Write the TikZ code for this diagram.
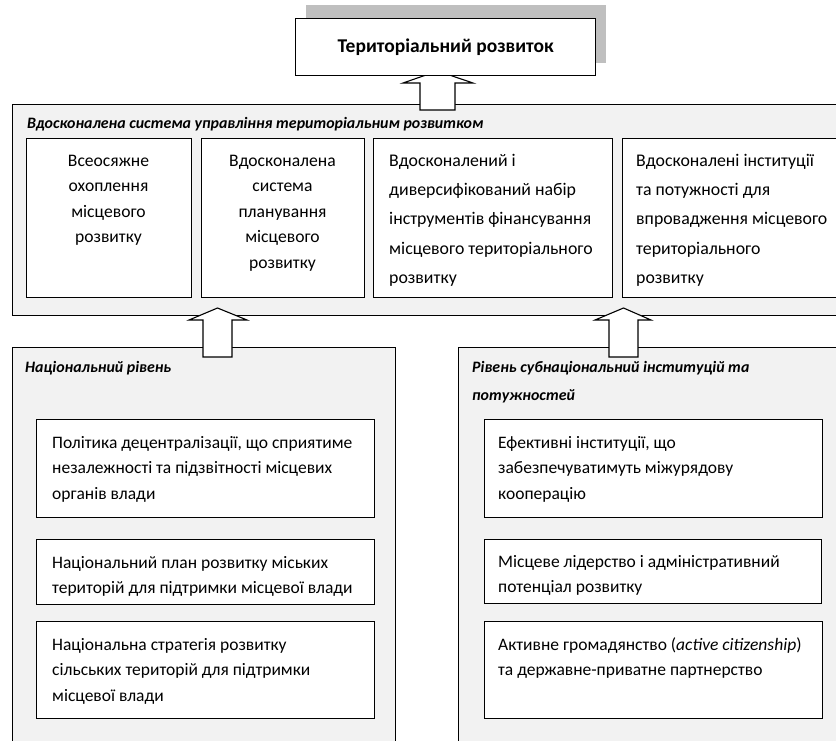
\documentclass[tikz,border=0pt]{standalone}
\usepackage{fontspec}
\setmainfont{Carlito}
\begin{document}
\begin{tikzpicture}[x=1pt,y=-1pt,
  panel/.style={draw=black, line width=1.3pt, fill=black!5, rectangle, inner sep=0pt, anchor=north west},
  box/.style={draw=black, line width=1.3pt, fill=white, rectangle, inner sep=0pt, anchor=north west},
  shadowbox/.style={fill=black!25, draw=none, rectangle, inner sep=0pt, anchor=north west},
  body/.style={inner sep=0pt, anchor=north west, align=left, font=\fontsize{17.5}{25.5}\selectfont},
  bodyc/.style={inner sep=0pt, anchor=north, align=center, font=\fontsize{17.6}{25.5}\selectfont},
  bodywide/.style={inner sep=0pt, anchor=north west, align=left, font=\fontsize{17.8}{29.3}\selectfont},
  ptitle/.style={inner sep=0pt, anchor=north west, align=left, font=\fontsize{15.9}{28}\selectfont\bfseries\itshape},
  barrow/.style={draw=black, line width=1.1pt, fill=white, line join=miter}
]
\useasboundingbox (0,0) rectangle (836,740);
\clip (0,0) rectangle (836,740);

% panels
\node[panel, minimum width=840pt, minimum height=211pt] (upper) at (12,104) {};
\node[panel, minimum width=383pt, minimum height=420pt] (natl) at (12,347) {};
\node[panel, minimum width=400pt, minimum height=420pt] (subn) at (458,347) {};

% panel titles
\node[ptitle] (uppertitle) at (27,128-14) {\rule{0pt}{14pt}Вдосконалена система управління територіальним розвитком};
\node[ptitle] (natltitle) at (25,372-14) {\rule{0pt}{14pt}Національний рівень};
\node[ptitle] (subntitle) at (472,372-14) {\rule{0pt}{14pt}Рівень субнаціональний інституцій та\\потужностей};

% upper boxes
\node[box, minimum width=165pt, minimum height=159pt] (b1) at (26,138) {};
\node[box, minimum width=163pt, minimum height=159pt] (b2) at (201,138) {};
\node[box, minimum width=239pt, minimum height=159pt] (b3) at (373,138) {};
\node[box, minimum width=240pt, minimum height=159pt] (b4) at (622,138) {};

\node[bodyc] (t1) at (108.5,166-14) {\rule{0pt}{14pt}Всеосяжне\\охоплення\\місцевого\\розвитку};
\node[bodyc] (t2) at (282.5,166-14) {\rule{0pt}{14pt}Вдосконалена\\система\\планування\\місцевого\\розвитку};
\node[bodywide] (t3) at (389,166-14) {\rule{0pt}{14pt}Вдосконалений і\\диверсифікований набір\\інструментів фінансування\\місцевого територіального\\розвитку};
\node[bodywide] (t4) at (636,166-14) {\rule{0pt}{14pt}Вдосконалені інституції\\та потужності для\\впровадження місцевого\\територіального\\розвитку};

% lower left boxes
\node[box, minimum width=338pt, minimum height=98pt] (la) at (36,419) {};
\node[box, minimum width=338pt, minimum height=65pt] (lb) at (36,539) {};
\node[box, minimum width=338pt, minimum height=97pt] (lc) at (36,621) {};
\node[body] (tla) at (52,448-14) {\rule{0pt}{14pt}Політика децентралізації, що сприятиме\\незалежності та підзвітності місцевих\\органів влади};
\node[body] (tlb) at (52,568-14) {\rule{0pt}{14pt}Національний план розвитку міських\\територій для підтримки місцевої влади};
\node[body] (tlc) at (52,650-14) {\rule{0pt}{14pt}Національна стратегія розвитку\\сільських територій для підтримки\\місцевої влади};

% lower right boxes
\node[box, minimum width=338pt, minimum height=98pt] (ra) at (484,419) {};
\node[box, minimum width=337pt, minimum height=64pt] (rb) at (484,539) {};
\node[box, minimum width=338pt, minimum height=97pt] (rc) at (484,621) {};
\node[body] (tra) at (498,448-14) {\rule{0pt}{14pt}Ефективні інституції, що\\забезпечуватимуть міжурядову\\кооперацію};
\node[body] (trb) at (498,567-14) {\rule{0pt}{14pt}Місцеве лідерство і адміністративний\\потенціал розвитку};
\node[body] (trc) at (498,650-14) {\rule{0pt}{14pt}Активне громадянство (\textit{active citizenship})\\та державне-приватне партнерство};

% block arrows
\draw[barrow] (203,357) -- (203,320) -- (189,320) -- (217.5,308) -- (247,320) -- (232,320) -- (232,357) -- cycle;
\draw[barrow] (609,357) -- (609,320) -- (595,320) -- (623.5,308) -- (651,320) -- (638,320) -- (638,357) -- cycle;
\draw[barrow] (420,110) -- (420,83) -- (403,83) -- (437.5,71) -- (473,83) -- (455,83) -- (455,110) -- cycle;

% title
\node[shadowbox, minimum width=300pt, minimum height=58pt] (titleshadow) at (306,5) {};
\node[box, minimum width=300pt, minimum height=57pt, font=\fontsize{19.5}{21}\selectfont\bfseries] (title) at (295,18) {Територіальний розвиток};
\end{tikzpicture}
\end{document}
